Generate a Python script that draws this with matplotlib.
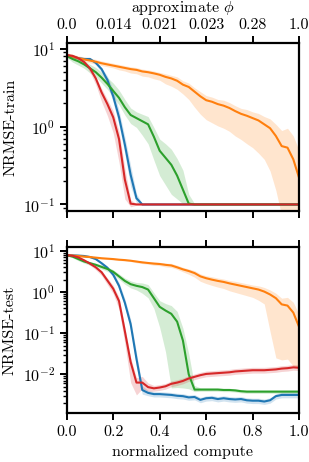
import numpy as np
import matplotlib
matplotlib.use("Agg")
import matplotlib.pyplot as plt

plt.rcParams["font.family"] = "serif"
plt.rcParams["font.serif"] = ["cmr10"]
plt.rcParams["mathtext.fontset"] = "cm"
plt.rcParams["axes.formatter.use_mathtext"] = True
plt.rcParams["font.size"] = 11.5

# normalized compute grid
x = np.linspace(0, 1, 41)

phi_ticks = [0.0, 0.2, 0.4, 0.6, 0.8, 1.0]
phi_labels = ["0.0", "0.014", "0.021", "0.023", "0.28", "1.0"]

# log10(NRMSE-train), mean over runs
train_blue = [0.92, 0.90, 0.88, 0.87, 0.87, 0.82, 0.74, 0.60, 0.39, 0.12, -0.23, -0.62, -0.92, -1.0,
              -1.0, -1.0, -1.0, -1.0, -1.0, -1.0, -1.0, -1.0, -1.0, -1.0, -1.0, -1.0, -1.0, -1.0,
              -1.0, -1.0, -1.0, -1.0, -1.0, -1.0, -1.0, -1.0, -1.0, -1.0, -1.0, -1.0, -1.0]
train_orange = [0.92, 0.90, 0.88, 0.865, 0.85, 0.835, 0.815, 0.80, 0.785, 0.77, 0.755, 0.74, 0.73, 0.71,
                0.70, 0.685, 0.667, 0.64, 0.62, 0.59, 0.54, 0.51, 0.45, 0.39, 0.34, 0.32, 0.29, 0.27,
                0.24, 0.20, 0.165, 0.14, 0.11, 0.08, 0.03, -0.02, -0.12, -0.25, -0.27, -0.42, -0.66]
train_green = [0.91, 0.87, 0.84, 0.80, 0.75, 0.70, 0.63, 0.55, 0.46, 0.37, 0.25, 0.15, 0.11, 0.07,
               0.03, -0.13, -0.31, -0.40, -0.49, -0.63, -0.81, -0.99, -1.0, -1.0, -1.0, -1.0, -1.0, -1.0,
               -1.0, -1.0, -1.0, -1.0, -1.0, -1.0, -1.0, -1.0, -1.0, -1.0, -1.0, -1.0, -1.0]
train_red = [0.92, 0.91, 0.88, 0.83, 0.75, 0.62, 0.44, 0.29, 0.12, -0.16, -0.68, -0.99, -1.0, -1.0,
             -1.0, -1.0, -1.0, -1.0, -1.0, -1.0, -1.0, -1.0, -1.0, -1.0, -1.0, -1.0, -1.0, -1.0,
             -1.0, -1.0, -1.0, -1.0, -1.0, -1.0, -1.0, -1.0, -1.0, -1.0, -1.0, -1.0, -1.0]

# band half-widths below / above the mean (log10 units)
train_blue_lo = [0.02] * 6 + [0.04, 0.06, 0.08, 0.10, 0.12, 0.15, 0.06] + [0.01] * 28
train_blue_hi = [0.02] * 7 + [0.05, 0.08, 0.09, 0.10, 0.12, 0.06] + [0.01] * 28
train_orange_lo = [0.03] * 9 + [0.04, 0.04, 0.05, 0.05, 0.06, 0.06, 0.07, 0.07, 0.09, 0.10, 0.11, 0.12,
                                 0.16, 0.20, 0.23, 0.25, 0.27, 0.28, 0.29, 0.30, 0.32, 0.33, 0.36, 0.38,
                                 0.42, 0.45, 0.55, 0.70, 0.90, 0.90, 0.80, 0.60]
train_orange_hi = [0.03] * 17 + [0.04, 0.04, 0.05, 0.05, 0.05, 0.05, 0.06, 0.06, 0.06, 0.06, 0.07, 0.07,
                                  0.07, 0.07, 0.08, 0.08, 0.09, 0.10, 0.12, 0.15, 0.20, 0.25, 0.30, 0.35]
train_green_lo = [0.02, 0.04, 0.05, 0.05, 0.06, 0.06, 0.07, 0.07, 0.08, 0.09, 0.10, 0.11, 0.12, 0.18,
                  0.25, 0.30, 0.32, 0.35, 0.38, 0.30, 0.18, 0.01] + [0.01] * 19
train_green_hi = [0.02, 0.03, 0.04, 0.05, 0.05, 0.06, 0.07, 0.08, 0.10, 0.10, 0.10, 0.09, 0.08, 0.09,
                  0.10, 0.12, 0.15, 0.18, 0.20, 0.22, 0.25, 0.12, 0.01] + [0.01] * 18
train_red_lo = [0.02] * 4 + [0.05, 0.08, 0.12, 0.15, 0.20, 0.30, 0.25, 0.04] + [0.01] * 29
train_red_hi = [0.02] * 6 + [0.05, 0.06, 0.08, 0.10, 0.15, 0.05] + [0.01] * 29

# log10(NRMSE-test), mean over runs
test_blue = [0.895, 0.89, 0.885, 0.875, 0.85, 0.80, 0.70, 0.59, 0.42, 0.15, -0.26, -0.78, -1.62, -2.38,
             -2.45, -2.48, -2.48, -2.49, -2.50, -2.52, -2.53, -2.56, -2.55, -2.62, -2.58, -2.57, -2.60,
             -2.58, -2.60, -2.61, -2.60, -2.63, -2.64, -2.64, -2.66, -2.63, -2.53, -2.50, -2.50, -2.50, -2.50]
test_orange = [0.895, 0.885, 0.875, 0.86, 0.85, 0.835, 0.82, 0.81, 0.80, 0.785, 0.775, 0.76, 0.74, 0.72,
               0.705, 0.69, 0.68, 0.66, 0.645, 0.60, 0.55, 0.51, 0.46, 0.38, 0.335, 0.30, 0.27, 0.245,
               0.21, 0.18, 0.15, 0.12, 0.09, 0.06, 0.01, -0.06, -0.15, -0.30, -0.33, -0.50, -0.85]
test_green = [0.895, 0.86, 0.80, 0.74, 0.70, 0.66, 0.61, 0.56, 0.49, 0.38, 0.27, 0.19, 0.15, 0.12,
              0.06, -0.15, -0.36, -0.45, -0.53, -0.72, -1.18, -2.00, -2.37, -2.37, -2.37, -2.37, -2.37,
              -2.38, -2.38, -2.39, -2.41, -2.42, -2.42, -2.42, -2.42, -2.42, -2.42, -2.42, -2.42, -2.42, -2.42]
test_red = [0.895, 0.88, 0.84, 0.77, 0.69, 0.60, 0.48, 0.28, 0.08, -0.22, -0.95, -1.70, -2.20, -2.20,
            -2.31, -2.34, -2.32, -2.29, -2.23, -2.20, -2.16, -2.10, -2.06, -2.02, -1.99, -1.98, -1.97,
            -1.96, -1.95, -1.93, -1.92, -1.91, -1.90, -1.90, -1.90, -1.89, -1.88, -1.86, -1.85, -1.83, -1.84]

test_blue_lo = [0.02] * 6 + [0.04, 0.05, 0.06, 0.08, 0.10, 0.15, 0.20, 0.10] + [0.07] * 27
test_blue_hi = [0.02] * 8 + [0.06, 0.08, 0.10, 0.12, 0.15, 0.10] + [0.06] * 27
test_orange_lo = [0.02] * 12 + [0.03, 0.03, 0.03, 0.04, 0.04, 0.05, 0.05, 0.05, 0.06, 0.08, 0.10, 0.12,
                                 0.13, 0.14, 0.15, 0.16, 0.18, 0.19, 0.20, 0.21, 0.22, 0.26, 0.30, 0.90,
                                 1.45, 1.35, 1.30, 1.30, 1.00]
test_orange_hi = [0.02] * 12 + [0.03, 0.03, 0.03, 0.04, 0.04, 0.04, 0.05, 0.05, 0.05, 0.05, 0.06, 0.06,
                                 0.06, 0.07, 0.07, 0.07, 0.07, 0.08, 0.08, 0.08, 0.08, 0.09, 0.10, 0.11,
                                 0.12, 0.15, 0.20, 0.25, 0.30]
test_green_lo = [0.02, 0.03, 0.04, 0.04, 0.05, 0.05, 0.05, 0.06, 0.06, 0.07, 0.08, 0.09, 0.10, 0.15,
                 0.20, 0.25, 0.50, 1.00, 1.80, 1.60, 1.15, 0.35, 0.05] + [0.04] * 18
test_green_hi = [0.02, 0.03, 0.03, 0.04, 0.04, 0.04, 0.05, 0.05, 0.05, 0.06, 0.07, 0.08, 0.08, 0.10,
                 0.12, 0.13, 0.15, 0.17, 0.20, 0.25, 0.30, 0.50, 0.10] + [0.04] * 18
test_red_lo = [0.02] * 4 + [0.04, 0.06, 0.08, 0.10, 0.12, 0.20, 0.30, 0.50, 0.30, 0.15, 0.10] + [0.07] * 26
test_red_hi = [0.02] * 6 + [0.04, 0.06, 0.08, 0.09, 0.10, 0.11, 0.12, 0.15, 0.10] + [0.07] * 26

colors = ["tab:blue", "tab:orange", "tab:green", "tab:red"]
train_sets = [(train_blue, train_blue_lo, train_blue_hi),
              (train_orange, train_orange_lo, train_orange_hi),
              (train_green, train_green_lo, train_green_hi),
              (train_red, train_red_lo, train_red_hi)]
test_sets = [(test_blue, test_blue_lo, test_blue_hi),
             (test_orange, test_orange_lo, test_orange_hi),
             (test_green, test_green_lo, test_green_hi),
             (test_red, test_red_lo, test_red_hi)]

fig = plt.figure(figsize=(3.09, 4.62), dpi=100)
ax1 = fig.add_axes([0.216, 0.543, 0.752, 0.363])
ax2 = fig.add_axes([0.216, 0.105, 0.752, 0.361])


def draw(ax, sets):
    for (m, lo, hi), c in zip(sets, colors):
        m = np.array(m)
        ax.fill_between(x, 10 ** (m - np.array(lo)), 10 ** (m + np.array(hi)),
                        color=c, alpha=0.2, lw=0)
        ax.plot(x, 10 ** m, color=c, lw=1.5)
    ax.set_yscale("log")
    ax.set_xlim(0, 1)
    ax.set_xticks(phi_ticks)
    for s in ax.spines.values():
        s.set_linewidth(1.6)
    ax.tick_params(which="major", direction="out", length=5, width=1.4)
    ax.tick_params(which="minor", direction="out", length=3, width=1.0)


draw(ax1, train_sets)
draw(ax2, test_sets)

ax1.set_ylim(0.082, 11.75)
ax1.tick_params(axis="x", top=True, labeltop=True, bottom=True, labelbottom=False)
ax1.set_xticklabels(phi_labels)
ax1.xaxis.set_label_position("top")
ax1.set_xlabel(r"approximate $\phi$")
ax1.set_ylabel("NRMSE-train")

ax2.set_ylim(0.00112, 12.6)
ax2.set_yticks([1e-2, 1e-1, 1e0, 1e1])
ax2.tick_params(axis="x", top=True, labeltop=False)
ax2.set_xticklabels(["0.0", "0.2", "0.4", "0.6", "0.8", "1.0"])
ax2.set_xlabel("normalized compute")
ax2.set_ylabel("NRMSE-test")

fig.savefig("out.png", dpi=100)
